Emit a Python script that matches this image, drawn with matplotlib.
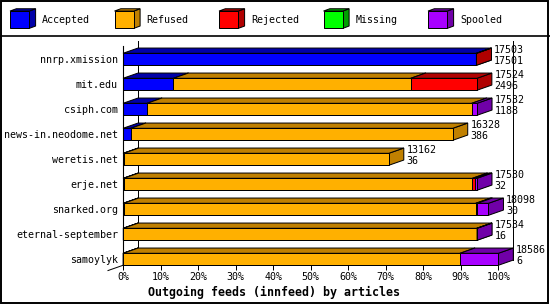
import matplotlib
matplotlib.use('Agg')
import matplotlib.pyplot as plt
from matplotlib.patches import Rectangle, Polygon
from matplotlib.lines import Line2D

# データ
feeds = ['nnrp.xmission', 'mit.edu', 'csiph.com', 'news-in.neodome.net',
         'weretis.net', 'erje.net', 'snarked.org', 'eternal-september', 'samoylyk']
accepted = [17501, 2496, 1188, 386, 36, 32, 30, 16, 6]
refused = [0, 11750, 16080, 15942, 13126, 17268, 17440, 17500, 16680]
rejected = [2, 3278, 0, 0, 0, 150, 75, 0, 0]
missing = [0, 0, 0, 0, 0, 0, 0, 0, 0]
spooled = [0, 0, 264, 0, 0, 80, 553, 18, 1900]
series_names = ['Accepted', 'Refused', 'Rejected', 'Missing', 'Spooled']
tick_pct = [0, 10, 20, 30, 40, 50, 60, 70, 80, 90, 100]
title = 'Outgoing feeds (innfeed) by articles'

# 色 (前面, 上面/側面)
FRONT = ['#0000FF', '#FFB000', '#FF0000', '#00FF00', '#A800FF']
DARK = ['#0000A8', '#C08000', '#B00000', '#00A000', '#7000A8']

FONT = 'DejaVu Sans Mono'
FS = 7.2
W, H = 550, 305
DX, DY = 4.0, 0.21   # 奥行き (x: %, y: 行単位)
BAR_H = 0.48
Y_TOP, Y_BOT = -0.532, 8.24

fig = plt.figure(figsize=(W / 100, H / 100), dpi=100)
ax = fig.add_axes([123 / W, 1 - 265.3 / H, 375.3 / W, (265.3 - 46) / H])
ax.set_xlim(0, 100)
ax.set_ylim(Y_BOT, Y_TOP)
for s in ['top', 'right', 'bottom']:
    ax.spines[s].set_visible(False)
ax.spines['left'].set_linewidth(0.8)
ax.set_facecolor('none')

ax.set_xticks(tick_pct)
ax.set_xticklabels(['%d%%' % t for t in tick_pct], fontfamily=FONT, fontsize=FS)
ax.set_yticks(range(len(feeds)))
ax.set_yticklabels(feeds, fontfamily=FONT, fontsize=FS)
ax.tick_params(axis='x', length=3.6, width=0.72, pad=1.5, direction='out')
ax.tick_params(axis='y', length=0, pad=3.6)


def box(a, x0, x1, yc, front, dark, dx, dy, h, z):
    top = yc - h / 2
    bot = yc + h / 2
    kw = dict(edgecolor='black', linewidth=0.72, clip_on=False, zorder=z, joinstyle='miter')
    a.add_patch(Polygon([(x1, top), (x1 + dx, top - dy), (x1 + dx, bot - dy), (x1, bot)],
                        facecolor=dark, **kw))
    a.add_patch(Polygon([(x0, top), (x1, top), (x1 + dx, top - dy), (x0 + dx, top - dy)],
                        facecolor=dark, **kw))
    a.add_patch(Rectangle((x0, top), x1 - x0, h, facecolor=front, **kw))


# 奥の線
line_kw = dict(color='black', linewidth=0.72, clip_on=False, zorder=0.5)
ax.plot([DX, DX], [Y_TOP - DY, Y_BOT - DY], **line_kw)
ax.plot([100 + DX, 100 + DX], [Y_TOP - DY, Y_BOT - DY], **line_kw)
ax.plot([0, -DX], [Y_BOT, Y_BOT + DY], **line_kw)

data = [accepted, refused, rejected, missing, spooled]
totals = [sum(v) for v in zip(*data)]
scale = 100.0 / max(totals)

for i, feed in enumerate(feeds):
    left = 0.0
    for k in range(len(data)):
        w = data[k][i] * scale
        if w <= 0:
            continue
        box(ax, left, left + w, i, FRONT[k], DARK[k], DX, DY, BAR_H, 2 + i * 0.1 + k * 0.01)
        left += w
    tx = totals[i] * scale + DX + 0.7
    ax.text(tx, i - 0.37, str(totals[i]), fontfamily=FONT, fontsize=FS,
            ha='left', va='center', zorder=10, clip_on=False)
    ax.text(tx, i + 0.07, str(accepted[i]), fontfamily=FONT, fontsize=FS,
            ha='left', va='center', zorder=10, clip_on=False)

fig.text(273.5 / W, 1 - 292 / H, title, fontfamily=FONT, fontsize=8.4,
         fontweight='bold', ha='center', va='center')

# 凡例
lax = fig.add_axes([0, 1 - 35 / H, 1, 35 / H])
lax.set_xlim(0, W)
lax.set_ylim(35, 0)
lax.axis('off')
for k, name in enumerate(series_names):
    x0 = 10 + k * 104.5
    box(lax, x0, x0 + 19.3, 19.7, FRONT[k], DARK[k], 6.3, 2.3, 17.3, 2)
    lax.text(x0 + 32, 20.2, name, fontfamily=FONT, fontsize=FS, ha='left', va='center')

# 枠線
fig.add_artist(Line2D([0, 1], [1 - 35.5 / H] * 2, transform=fig.transFigure,
                      color='black', linewidth=1.2))
fig.add_artist(Rectangle((0.8 / W, 1 - 302.5 / H), 547.5 / W, 301.5 / H,
                         transform=fig.transFigure, fill=False,
                         edgecolor='black', linewidth=1.4))

plt.savefig('out.png', dpi=100)
